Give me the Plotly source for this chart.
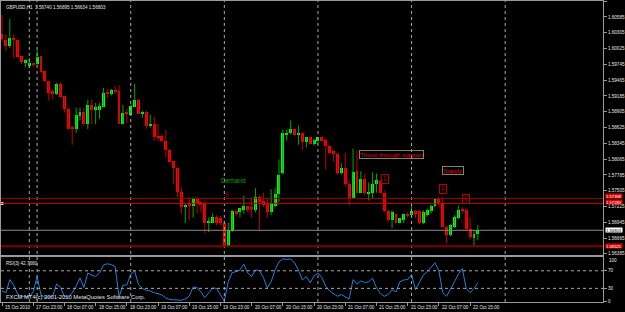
import plotly.graph_objects as go

# ---------------- data (GBPUSD H1) ----------------
opens = [1.6028,1.6018,1.6007,1.6021,1.6018,1.5989,1.5977,1.5972,1.5977,1.5975,
 1.5989,1.5963,1.5945,1.5928,1.5922,1.5940,1.5919,1.5896,1.5862,1.5860,
 1.5883,1.5890,1.5868,1.5903,1.5894,1.5894,1.5899,1.5924,1.5922,1.5929,
 1.5928,1.5869,1.5889,1.5885,1.5899,1.5912,1.5887,1.5890,1.5866,1.5869,
 1.5848,1.5848,1.5839,1.5823,1.5804,1.5790,1.5749,1.5723,1.5728,1.5723,
 1.5735,1.5730,1.5728,1.5694,1.5694,1.5703,1.5702,1.5694,1.5652,1.5679,
 1.5714,1.5712,1.5716,1.5723,1.5721,1.5716,1.5739,1.5732,1.5728,1.5712,
 1.5724,1.5744,1.5781,1.5850,1.5852,1.5859,1.5850,1.5852,1.5836,1.5845,
 1.5834,1.5839,1.5845,1.5841,1.5829,1.5820,1.5816,1.5781,1.5790,1.5763,
 1.5737,1.5785,1.5747,1.5772,1.5746,1.5746,1.5763,1.5767,1.5747,1.5714,
 1.5698,1.5709,1.5694,1.5698,1.5710,1.5707,1.5714,1.5714,1.5693,1.5707,
 1.5714,1.5724,1.5735,1.5728,1.5687,1.5672,1.5687,1.5702,1.5717,1.5717,
 1.5682,1.5666,1.5674]
highs = [1.6062,1.6028,1.6055,1.6028,1.6019,1.5989,1.5984,1.5986,1.5977,1.6000,
 1.5989,1.5963,1.5945,1.5931,1.5942,1.5942,1.5919,1.5898,1.5866,1.5898,
 1.5898,1.5898,1.5912,1.5912,1.5906,1.5906,1.5933,1.5931,1.5931,1.5936,
 1.5938,1.5903,1.5896,1.5903,1.5940,1.5913,1.5892,1.5892,1.5885,1.5882,
 1.5869,1.5850,1.5859,1.5825,1.5804,1.5792,1.5755,1.5728,1.5740,1.5739,
 1.5740,1.5732,1.5733,1.5703,1.5710,1.5707,1.5705,1.5696,1.5694,1.5717,
 1.5717,1.5719,1.5742,1.5724,1.5739,1.5755,1.5742,1.5747,1.5737,1.5753,
 1.5755,1.5806,1.5859,1.5859,1.5875,1.5860,1.5866,1.5852,1.5846,1.5846,
 1.5843,1.5846,1.5846,1.5843,1.5832,1.5822,1.5818,1.5799,1.5818,1.5769,
 1.5825,1.5822,1.5785,1.5781,1.5765,1.5783,1.5781,1.5769,1.5751,1.5717,
 1.5716,1.5710,1.5703,1.5710,1.5712,1.5730,1.5716,1.5716,1.5716,1.5719,
 1.5726,1.5737,1.5739,1.5740,1.5689,1.5691,1.5707,1.5724,1.5721,1.5719,
 1.5703,1.5680,1.5690]
lows = [1.6016,1.5998,1.6004,1.5986,1.5986,1.5975,1.5970,1.5968,1.5970,1.5972,
 1.5959,1.5943,1.5910,1.5912,1.5920,1.5917,1.5889,1.5860,1.5832,1.5853,
 1.5875,1.5866,1.5860,1.5868,1.5868,1.5878,1.5898,1.5915,1.5919,1.5922,
 1.5869,1.5868,1.5871,1.5883,1.5898,1.5887,1.5880,1.5860,1.5862,1.5839,
 1.5839,1.5836,1.5809,1.5802,1.5763,1.5739,1.5710,1.5693,1.5698,1.5703,
 1.5710,1.5712,1.5675,1.5677,1.5693,1.5689,1.5689,1.5649,1.5650,1.5677,
 1.5705,1.5703,1.5710,1.5712,1.5703,1.5712,1.5679,1.5721,1.5702,1.5707,
 1.5721,1.5730,1.5779,1.5839,1.5850,1.5848,1.5832,1.5823,1.5827,1.5832,
 1.5830,1.5834,1.5836,1.5788,1.5816,1.5802,1.5779,1.5779,1.5758,1.5724,
 1.5737,1.5746,1.5746,1.5742,1.5733,1.5737,1.5747,1.5746,1.5712,1.5694,
 1.5684,1.5693,1.5693,1.5693,1.5702,1.5705,1.5702,1.5691,1.5691,1.5705,
 1.5710,1.5721,1.5721,1.5687,1.5657,1.5670,1.5684,1.5700,1.5710,1.5680,
 1.5664,1.5650,1.5663]
closes = [1.6019,1.6007,1.6021,1.6018,1.5988,1.5979,1.5982,1.5977,1.5975,1.5988,
 1.5961,1.5945,1.5924,1.5922,1.5940,1.5917,1.5896,1.5860,1.5860,1.5885,
 1.5890,1.5868,1.5903,1.5894,1.5898,1.5901,1.5924,1.5922,1.5929,1.5926,
 1.5869,1.5889,1.5887,1.5901,1.5912,1.5887,1.5890,1.5866,1.5869,1.5846,
 1.5845,1.5838,1.5822,1.5802,1.5790,1.5749,1.5721,1.5726,1.5723,1.5735,
 1.5728,1.5726,1.5694,1.5696,1.5703,1.5694,1.5693,1.5652,1.5680,1.5714,
 1.5710,1.5719,1.5724,1.5716,1.5719,1.5739,1.5730,1.5726,1.5712,1.5728,
 1.5744,1.5779,1.5852,1.5853,1.5859,1.5850,1.5852,1.5836,1.5845,1.5834,
 1.5841,1.5845,1.5839,1.5830,1.5818,1.5815,1.5781,1.5790,1.5763,1.5737,
 1.5783,1.5747,1.5772,1.5746,1.5747,1.5763,1.5769,1.5747,1.5714,1.5698,
 1.5712,1.5694,1.5702,1.5709,1.5707,1.5714,1.5709,1.5693,1.5712,1.5716,
 1.5724,1.5735,1.5728,1.5687,1.5672,1.5689,1.5703,1.5717,1.5716,1.5682,
 1.5668,1.5673,1.5680]
rsi = [24,20,50,37,17,12,12,10,22,57,
 15,10,10,12,40,32,12,10,20,35,
 54,32,65,60,57,65,83,86,84,80,
 10,37,38,62,70,38,30,25,24,20,
 18,15,8,5,4,3,3,6,12,33,
 32,22,9,20,31,30,16,1,45,66,
 68,72,85,65,57,72,70,55,31,45,
 72,90,97,96,97,88,72,49,57,43,
 58,65,55,35,24,17,12,16,10,6,
 50,40,47,43,45,53,32,18,12,16,
 27,22,45,49,50,61,27,45,60,68,
 78,88,70,20,12,30,45,62,75,30,
 20,30,42.77]

date_idx = [0, 8, 16, 24, 32, 40, 48, 56, 64, 72, 80, 88, 96, 104, 112, 120]
date_labels = ["15 Oct 2010", "17 Oct 23:00", "18 Oct 07:00", "18 Oct 15:00",
               "18 Oct 23:00", "19 Oct 07:00", "19 Oct 15:00", "19 Oct 23:00",
               "20 Oct 07:00", "20 Oct 15:00", "20 Oct 23:00", "21 Oct 07:00",
               "21 Oct 15:00", "21 Oct 23:00", "22 Oct 07:00", "22 Oct 15:00"]
separator_idx = [7, 9, 33, 57, 81, 105, 129]

price_ticks = [1.60865, 1.60585, 1.60305, 1.60025, 1.59745, 1.59465, 1.59185,
               1.58905, 1.58625, 1.58345, 1.58065, 1.57785, 1.57505, 1.57225,
               1.56945, 1.56665, 1.56385]
price_tick_labels = ["1.60865", "1.60585", "1.60305", "1.60025", "1.59745", "1.59465",
                     "1.59185", "1.58905", "1.58625", "1.58345", "1.58065", "1.57785",
                     "1.57505", "1.57225", "1.56945", "1.56665", "1.56385"]
rsi_ticks = [70, 30, 0]
rsi_tick_labels = ["70", "30", "0"]
rsi_top_label = "100"

level_prices = [1.57368, 1.57280, 1.56803, 1.56521]
level_labels = ["1.57368", "1.57280", "1.56803", "1.56521"]

header = "GBPUSD,H1  1.56740 1.56895 1.56634 1.56803"
rsi_header = "RSI(3) 42.7660"
copyright_text = "FXCM MT4(c) 2001-2010 MetaQuotes Software Corp."

# ---------------- styles ----------------
FONT = "Liberation Sans"
FG = "#e6e6e6"
FRAME = "#9a9a9a"
BULL, BEAR = "#00ff00", "#ff0000"
BULL_WICK, BEAR_WICK = "#00a800", "#c00000"
level_colors = ["#a00000", "#d00000", "#8a8a8a", "#800000"]
level_widths = [1, 1, 1, 2]
level_label_shift = [2, 1, 0, 0]
SMALL = 4.6

n = len(opens)
idx = list(range(n))

fig = go.Figure()

# wicks
for up, col in ((True, BULL_WICK), (False, BEAR_WICK)):
    xs, ys = [], []
    for i in idx:
        if (closes[i] >= opens[i]) == up:
            xs += [i, i, None]
            ys += [lows[i], highs[i], None]
    fig.add_trace(go.Scatter(x=xs, y=ys, mode="lines", line=dict(color=col, width=1),
                             xaxis="x", yaxis="y", hoverinfo="skip"))

# bodies
min_body = 0.00016
for up, col in ((True, BULL), (False, BEAR)):
    bx = [i for i in idx if (closes[i] >= opens[i]) == up]
    base = [min(opens[i], closes[i]) for i in bx]
    hgt = [max(abs(closes[i] - opens[i]), min_body) for i in bx]
    fig.add_trace(go.Bar(x=bx, y=hgt, base=base, width=0.75,
                         marker=dict(color=col, line=dict(width=0)),
                         xaxis="x", yaxis="y"))

# anchor marker of the horizontal line object
fig.add_trace(go.Scatter(x=[0], y=[level_prices[1]], mode="markers",
                         marker=dict(symbol="square", size=3, color="#ffd0d0"),
                         xaxis="x", yaxis="y", hoverinfo="skip"))

# RSI
fig.add_trace(go.Scatter(x=idx, y=rsi, mode="lines",
                         line=dict(color="#1f7fdc", width=1),
                         xaxis="x2", yaxis="y2"))

shapes = []
for s in separator_idx:
    shapes.append(dict(type="line", xref="x", yref="paper", x0=s, x1=s, y0=0, y1=1,
                       line=dict(color="#a8a8a8", width=1, dash="dot")))
for p, c, w in zip(level_prices, level_colors, level_widths):
    shapes.append(dict(type="line", xref="paper", yref="y", x0=0, x1=1, y0=p, y1=p,
                       line=dict(color=c, width=w)))
for lv in (70, 30):
    shapes.append(dict(type="line", xref="paper", yref="y2", x0=0, x1=1, y0=lv, y1=lv,
                       line=dict(color="#a8a8a8", width=1, dash="dot")))

ann = []
ann.append(dict(text=header, xref="paper", yref="paper", x=0, y=1, xanchor="left",
                yanchor="top", xshift=3, yshift=-2, showarrow=False,
                font=dict(size=SMALL, color=FG, family=FONT)))
ann.append(dict(text=rsi_header, xref="paper", yref="y2", x=0, y=101, xanchor="left",
                yanchor="top", xshift=3, yshift=-2, showarrow=False,
                font=dict(size=SMALL, color=FG, family=FONT)))
ann.append(dict(text=copyright_text, xref="paper", yref="y2", x=0, y=0, xanchor="left",
                yanchor="bottom", xshift=3, yshift=0, showarrow=False,
                font=dict(size=5.8, color=FG, family=FONT)))
ann.append(dict(text=rsi_top_label, xref="paper", yref="y2", x=1, y=94, xanchor="left",
                yanchor="middle", xshift=4, showarrow=False,
                font=dict(size=SMALL, color=FG, family=FONT)))
for i, lab in zip(date_idx, date_labels):
    ann.append(dict(text=lab, xref="x2", yref="paper", x=i, y=0, xanchor="left",
                    yanchor="top", xshift=1, yshift=-1, showarrow=False,
                    font=dict(size=SMALL, color=FG, family=FONT)))
for k, (p, lab) in enumerate(zip(level_prices, level_labels)):
    white = (k == 2)
    ann.append(dict(text=lab, xref="paper", yref="y", x=1, y=p, xanchor="left",
                    yanchor="middle", xshift=2, yshift=level_label_shift[k],
                    showarrow=False, height=4.4,
                    bgcolor="#ffffff" if white else "#e00000", borderpad=0,
                    font=dict(size=4.2, color="#000000" if white else "#ffffff", family=FONT)))

# chart objects
ann.append(dict(text="Demand", xref="x", yref="y", x=55.6, y=1.5769, xanchor="left",
                yanchor="middle", showarrow=False,
                font=dict(size=6.5, color="#00a000", family=FONT)))
ann.append(dict(text="\u21e7", xref="x", yref="y", x=57.8, y=1.5743, xanchor="center",
                yanchor="middle", showarrow=False,
                font=dict(size=7, color="#dd0000", family="DejaVu Sans")))
ann.append(dict(text="Thrust through support", xref="x", yref="y", x=91.6, y=1.5815,
                xanchor="left", yanchor="middle", showarrow=False,
                bordercolor="#808080", borderwidth=1, borderpad=0,
                font=dict(size=6.2, color="#e00000", family=FONT)))
ann.append(dict(text="Supply", xref="x", yref="y", x=112.8, y=1.5786,
                xanchor="left", yanchor="middle", showarrow=False,
                bordercolor="#808080", borderwidth=1, borderpad=0,
                font=dict(size=6.2, color="#e00000", family=FONT)))
for ax_, ay_ in ((98.1, 1.5771), (113.0, 1.5753), (119.0, 1.5735)):
    ann.append(dict(text="\u21e9", xref="x", yref="y", x=ax_, y=ay_,
                    xanchor="center", yanchor="middle", showarrow=False,
                    bordercolor="#b00000", borderwidth=1, borderpad=0,
                    font=dict(size=7, color="#dd0000", family="DejaVu Sans")))

xr = [-0.26, 154.08]
common_x = dict(range=xr, showgrid=False, zeroline=False, showline=True, mirror=True,
                linecolor=FRAME, linewidth=1, fixedrange=True)
fig.update_layout(
    width=625, height=312,
    margin=dict(l=1, r=19, t=0, b=10),
    paper_bgcolor="#000000", plot_bgcolor="#000000",
    showlegend=False, barmode="overlay", bargap=0,
    font=dict(family=FONT, size=SMALL, color=FG),
    xaxis=dict(domain=[0, 1], anchor="y", showticklabels=False, ticks="", **common_x),
    xaxis2=dict(domain=[0, 1], anchor="y2", matches="x", showticklabels=False,
                tickvals=date_idx, ticks="outside", ticklen=3, tickcolor=FRAME, **common_x),
    yaxis=dict(domain=[0.1556, 1], range=[1.56362, 1.60868], side="right",
               tickvals=price_ticks, ticktext=price_tick_labels, ticks="outside",
               ticklen=3, tickcolor=FRAME, showgrid=False, zeroline=False,
               showline=True, mirror=True, linecolor=FRAME,
               tickfont=dict(size=SMALL, color=FG, family=FONT)),
    yaxis2=dict(domain=[0, 0.149], range=[-1, 101], side="right",
                tickvals=rsi_ticks, ticktext=rsi_tick_labels, ticks="outside",
                ticklen=3, tickcolor=FRAME, showgrid=False, zeroline=False,
                showline=True, mirror=True, linecolor=FRAME,
                tickfont=dict(size=SMALL, color=FG, family=FONT)),
    shapes=shapes, annotations=ann,
)

fig.write_html("out.html")
